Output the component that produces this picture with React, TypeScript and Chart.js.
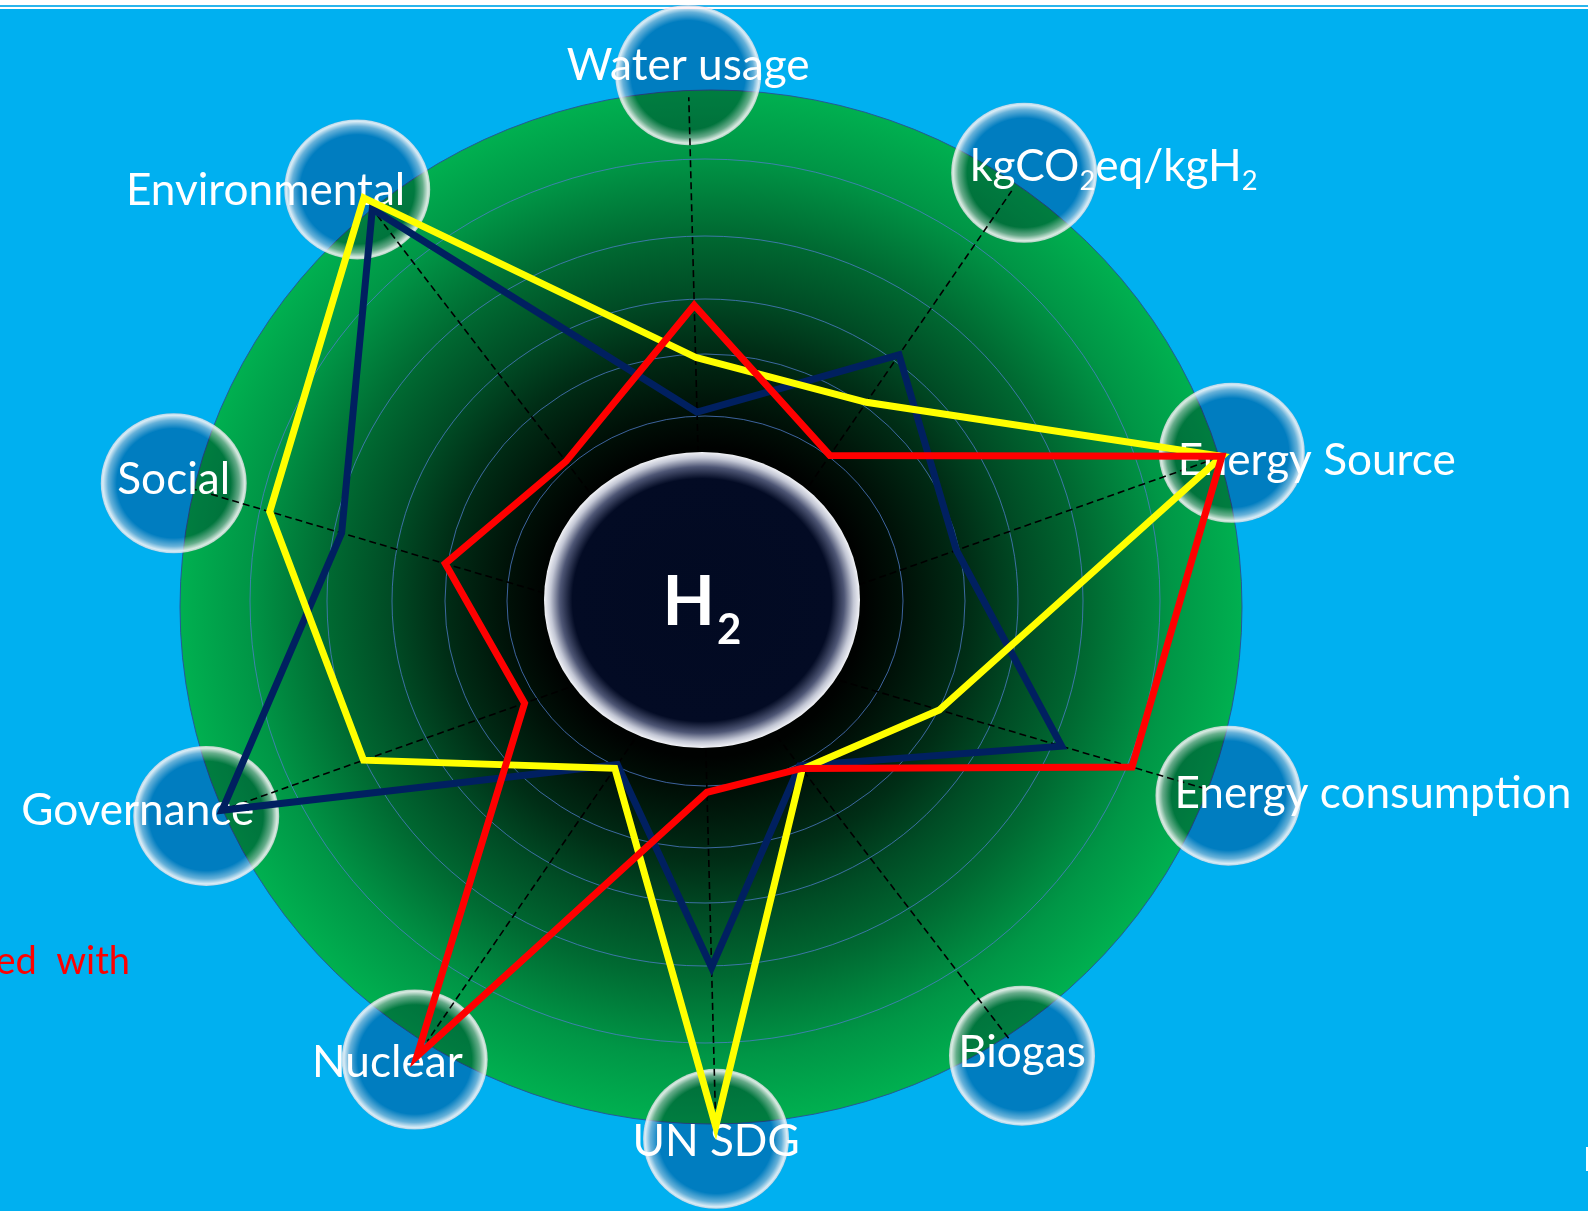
import { useEffect, useRef } from "react";
import { Chart, registerables } from "chart.js";

Chart.register(...registerables);

// Radar axes, clockwise from the top
const axisLabels = [
  "Water usage",
  "kgCO2eq/kgH2",
  "Energy Source",
  "Energy consumption",
  "Biogas",
  "UN SDG",
  "Nuclear",
  "Governance",
  "Social",
  "Environmental",
];

// Scores per axis on a 0–10 scale
const redScores = [5.98, 4.0, 9.83, 7.99, 2.89, 2.72, 9.02, 3.38, 4.8, 4.02];
const navyScores = [4.07, 6.18, 4.8, 6.68, 2.83, 5.85, 2.7, 9.11, 6.73, 9.7];
const yellowScores = [5.05, 5.15, 9.83, 4.4, 2.91, 8.69, 2.78, 6.43, 8.07, 9.95];

const scaleMin = 0;
const scaleMax = 10;

// ---- layout & style ----
const PAGE_W = 1588;
const PAGE_H = 1211;
const CENTER = { x: 703, y: 640 };
const RADIUS = 560;

// distance (px) of each label bubble from the radar centre
const bubbleDistance = [565, 567, 561, 548, 524, 499, 509, 527, 552, 568];
// dashed spokes stop this far short of the bubble centre
const spokeShortfall = 22;
const bubbleRx = 73;
const bubbleRy = 70;
const labelAnchor = ["center", "left", "left", "left", "center", "center", "right", "right", "center", "right"];
// label baseline below the bubble centre (px)
const labelDrop = [5, 8, 22, 12, 11, 17, 18, 9, 11, 16];

// decorative target rings (rx, ry)
const ringRadii: [number, number][] = [
  [198, 185],
  [260, 247],
  [313, 302],
  [378, 365],
  [455, 442],
];

const FONT = "Lato, 'Open Sans', sans-serif";

function ellipsePath(ctx: CanvasRenderingContext2D, x: number, y: number, rx: number, ry: number) {
  ctx.beginPath();
  ctx.ellipse(x, y, rx, ry, 0, 0, Math.PI * 2);
}

type Seg = { t: string; sub: boolean };

function splitSubscripts(text: string): Seg[] {
  const segs: Seg[] = [];
  for (let k = 0; k < text.length; k++) {
    const ch = text[k];
    const sub = /\d/.test(ch) && k > 0 && /[A-Za-z]/.test(text[k - 1]);
    const last = segs[segs.length - 1];
    if (last && last.sub === sub) last.t += ch;
    else segs.push({ t: ch, sub });
  }
  return segs;
}

function drawRichText(
  ctx: CanvasRenderingContext2D,
  text: string,
  x: number,
  y: number,
  size: number,
  anchor: string,
  weight = "normal"
) {
  const segs = splitSubscripts(text);
  const subSize = size * 0.62;
  const widths = segs.map((s) => {
    ctx.font = `${weight} ${s.sub ? subSize : size}px ${FONT}`;
    return ctx.measureText(s.t).width;
  });
  const total = widths.reduce((a, b) => a + b, 0);
  let cur = anchor === "left" ? x : anchor === "right" ? x - total : x - total / 2;
  ctx.textAlign = "left";
  ctx.textBaseline = "alphabetic";
  segs.forEach((s, k) => {
    ctx.font = `${weight} ${s.sub ? subSize : size}px ${FONT}`;
    ctx.fillText(s.t, cur, s.sub ? y + size * 0.22 : y);
    cur += widths[k];
  });
}

const hydrogenArt = {
  id: "hydrogenArt",
  beforeDraw(chart: any) {
    const ctx: CanvasRenderingContext2D = chart.ctx;
    const r = chart.scales.r;
    const cx = r.xCenter;
    const cy = r.yCenter;
    const w = chart.width;
    const h = chart.height;
    ctx.save();

    // sky background with the thin strip along the top
    ctx.fillStyle = "#00B0F0";
    ctx.fillRect(0, 0, w, h);
    ctx.fillStyle = "#FFFFFF";
    ctx.fillRect(0, 0, w, 9);
    ctx.fillStyle = "#2BB5EC";
    ctx.fillRect(0, 5, w, 2);

    // green disc fading to black towards the core
    const gx = cx + 8;
    const gy = cy - 33;
    const grx = 531;
    const gry = 517;
    ctx.save();
    ctx.translate(gx, gy);
    ctx.scale(1, gry / grx);
    const g = ctx.createRadialGradient(-9, -7, 0, 0, 0, grx);
    g.addColorStop(0, "rgb(0,0,0)");
    g.addColorStop(0.3, "rgb(0,2,1)");
    g.addColorStop(0.37, "rgb(0,16,7)");
    g.addColorStop(0.5, "rgb(0,46,22)");
    g.addColorStop(0.6, "rgb(0,76,37)");
    g.addColorStop(0.72, "rgb(0,106,50)");
    g.addColorStop(0.87, "rgb(0,150,70)");
    g.addColorStop(1, "rgb(0,176,80)");
    ctx.fillStyle = g;
    ctx.beginPath();
    ctx.arc(0, 0, grx, 0, Math.PI * 2);
    ctx.fill();
    ctx.restore();
    ellipsePath(ctx, gx, gy, grx, gry);
    ctx.strokeStyle = "rgba(40,80,150,0.9)";
    ctx.lineWidth = 1;
    ctx.stroke();

    // target rings
    ctx.strokeStyle = "rgba(80,125,205,0.75)";
    ctx.lineWidth = 1;
    for (const [rx, ry] of ringRadii) {
      ellipsePath(ctx, cx + 2, cy - 39, rx, ry);
      ctx.stroke();
    }

    // translucent label bubbles with a soft white rim
    axisLabels.forEach((_, i) => {
      const p = r.getPointPosition(i, bubbleDistance[i]);
      ctx.save();
      ctx.globalCompositeOperation = "multiply";
      ctx.fillStyle = "rgb(255,181,204)";
      ellipsePath(ctx, p.x, p.y, bubbleRx, bubbleRy);
      ctx.fill();
      ctx.restore();
      ctx.save();
      ctx.translate(p.x, p.y);
      ctx.scale(1, bubbleRy / bubbleRx);
      const rim = ctx.createRadialGradient(0, 0, 0, 0, 0, bubbleRx);
      rim.addColorStop(0, "rgba(255,255,255,0)");
      rim.addColorStop(0.78, "rgba(255,255,255,0)");
      rim.addColorStop(0.9, "rgba(255,255,255,0.4)");
      rim.addColorStop(0.97, "rgba(255,255,255,0.85)");
      rim.addColorStop(1, "rgba(255,255,255,0.7)");
      ctx.fillStyle = rim;
      ctx.beginPath();
      ctx.arc(0, 0, bubbleRx, 0, Math.PI * 2);
      ctx.fill();
      ctx.restore();
    });
    ctx.restore();
  },
  beforeDatasetsDraw(chart: any) {
    const ctx: CanvasRenderingContext2D = chart.ctx;
    const r = chart.scales.r;
    const cx = r.xCenter;
    const cy = r.yCenter;
    ctx.save();

    // dashed spokes along each radar axis
    ctx.strokeStyle = "#000000";
    ctx.lineWidth = 1.6;
    ctx.setLineDash([7, 4]);
    axisLabels.forEach((_, i) => {
      const end = r.getPointPosition(i, bubbleDistance[i] - spokeShortfall);
      ctx.beginPath();
      ctx.moveTo(cx, cy);
      ctx.lineTo(end.x, end.y);
      ctx.stroke();
    });
    ctx.setLineDash([]);

    // H2 core
    const ax = cx - 1;
    const ay = cy - 40;
    const hrx = 158;
    const hry = 148;
    ctx.save();
    ctx.translate(ax, ay);
    ctx.scale(1, hry / hrx);
    const core = ctx.createRadialGradient(0, 0, 0, 0, 0, hrx);
    core.addColorStop(0, "#020A22");
    core.addColorStop(0.82, "#030B24");
    core.addColorStop(0.9, "#4E5675");
    core.addColorStop(0.96, "#C3C7D5");
    core.addColorStop(1, "#F2F3F7");
    ctx.fillStyle = core;
    ctx.beginPath();
    ctx.arc(0, 0, hrx, 0, Math.PI * 2);
    ctx.fill();
    ctx.restore();

    ctx.fillStyle = "#FFFFFF";
    ctx.font = `bold 68px ${FONT}`;
    const wH = ctx.measureText("H").width;
    ctx.font = `bold 42px ${FONT}`;
    const w2 = ctx.measureText("2").width;
    const start = ax - (wH + 2 + w2) / 2;
    ctx.textAlign = "left";
    ctx.textBaseline = "alphabetic";
    ctx.font = `bold 68px ${FONT}`;
    ctx.fillText("H", start, ay + 25);
    ctx.font = `bold 42px ${FONT}`;
    ctx.fillText("2", start + wH + 2, ay + 44);

    // axis labels on the bubbles
    ctx.font = `100px ${FONT}`;
    const fs = (100 * 397) / ctx.measureText("Energy consumption").width;
    ctx.fillStyle = "#FFFFFF";
    axisLabels.forEach((label, i) => {
      const p = r.getPointPosition(i, bubbleDistance[i]);
      const anchor = labelAnchor[i];
      const x = anchor === "left" ? p.x - 54 : anchor === "right" ? p.x + 48 : p.x;
      drawRichText(ctx, label, x, p.y + labelDrop[i], fs, anchor);
    });

    // partial captions at the page edges
    ctx.fillStyle = "#FF0000";
    ctx.font = `38px ${FONT}`;
    ctx.textAlign = "right";
    ctx.fillText("ed  with", 130, 974);
    ctx.fillStyle = "#FFFFFF";
    ctx.font = `33px ${FONT}`;
    ctx.textAlign = "left";
    ctx.fillText("N", 1583, 1171);

    ctx.restore();
  },
};

export default function App() {
  const canvasRef = useRef<HTMLCanvasElement>(null);

  useEffect(() => {
    const canvas = canvasRef.current;
    if (!canvas) return;
    const line = (label: string, data: number[], color: string) => ({
      label,
      data,
      borderColor: color,
      backgroundColor: "transparent",
      borderWidth: 7,
      fill: false,
      pointRadius: 0,
      pointHoverRadius: 0,
      tension: 0,
      borderJoinStyle: "miter" as const,
      clip: false as const,
    });
    const chart = new Chart(canvas, {
      type: "radar",
      data: {
        labels: axisLabels,
        datasets: [
          line("Red", redScores, "#FF0000"),
          line("Yellow", yellowScores, "#FFFF00"),
          line("Navy", navyScores, "#002060"),
        ],
      },
      options: {
        responsive: false,
        animation: false,
        devicePixelRatio: 1,
        events: [],
        layout: {
          padding: {
            left: CENTER.x - RADIUS,
            right: PAGE_W - CENTER.x - RADIUS,
            top: CENTER.y - RADIUS,
            bottom: PAGE_H - CENTER.y - RADIUS,
          },
        },
        plugins: {
          legend: { display: false },
          tooltip: { enabled: false },
          title: { display: false },
        },
        scales: {
          r: {
            min: scaleMin,
            max: scaleMax,
            startAngle: -1.5,
            grid: { display: false },
            angleLines: { display: false },
            ticks: { display: false },
            pointLabels: { display: false },
          },
        },
      },
      plugins: [hydrogenArt],
    });
    return () => chart.destroy();
  }, []);

  return (
    <div
      style={{
        position: "fixed",
        left: 0,
        top: 0,
        width: PAGE_W,
        height: PAGE_H,
        overflow: "hidden",
        background: "#00B0F0",
      }}
    >
      <canvas
        ref={canvasRef}
        width={PAGE_W}
        height={PAGE_H}
        style={{ display: "block", width: PAGE_W, height: PAGE_H }}
      />
    </div>
  );
}
